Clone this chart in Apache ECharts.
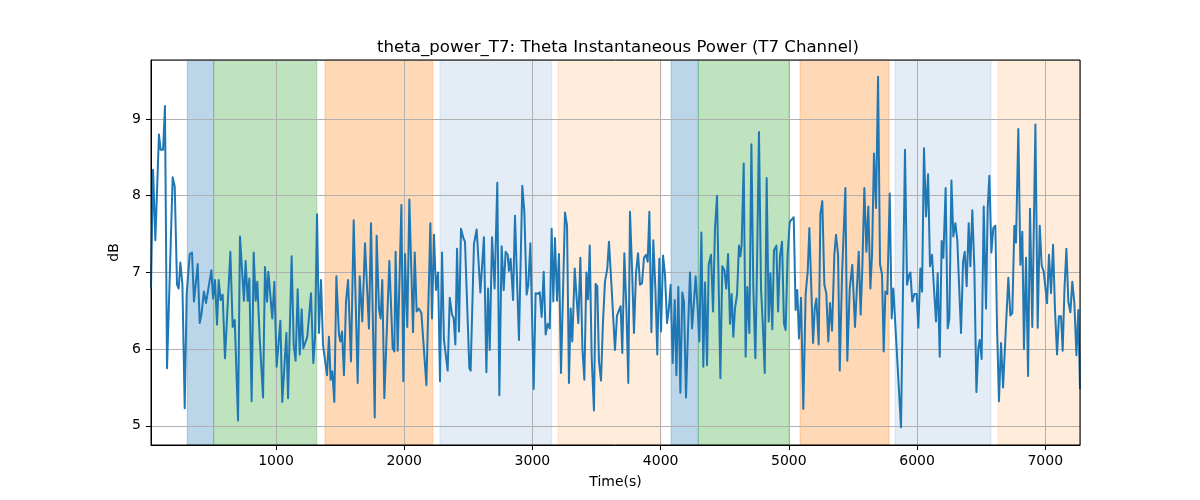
<!DOCTYPE html>
<html>
<head>
<meta charset="utf-8">
<script src="https://cdn.jsdelivr.net/npm/echarts@6/dist/echarts.min.js"></script>
<style>
html,body{margin:0;padding:0;background:#fff;}
#chart{width:1200px;height:500px;}
</style>
</head>
<body>
<div id="chart"></div>
<script>
// ---- data ----
const times = [
25,41,59,87,100,119,134,150,194,210,228,241,254,270,288,303,327,345,360,389,405,418,438,454,496,509,524,540,553,568,584,602,644,662,678,704,719,750,763,779,792,810,826,841,854,873,899,914,930,
940,971,987,1005,1034,1049,1081,1094,1122,1138,1153,1169,1185,1200,1213,1244,1273,1291,1304,1320,1335,1351,1367,1398,1413,1426,1439,1455,1471,1491,1502,1515,1530,1546,1562,1585,1606,1619,1637,1653,1673,1694,1725,1741,1770,1785,1803,1816,1829,1845,
1858,1884,1910,1923,1933,1949,1978,1993,2006,2024,2040,2069,2082,2097,2113,2134,2144,2173,2204,2217,2232,2248,2264,2279,2295,2310,2339,2355,2373,2386,2399,2412,2427,2443,2461,2474,2508,2518,2544,2565,2594,2622,2641,2654,2667,2685,2705,2726,2742,2760,
2776,2791,2807,2817,2830,2849,2864,2895,2921,2937,2955,2968,2984,3010,3025,3041,3057,3072,3088,3103,3119,3135,3150,3163,3176,3192,3207,3223,3254,3270,3285,3298,3311,3330,3343,3358,3374,3390,3405,3421,3434,3447,3462,3480,3493,3506,3519,3535,3550,3566,3584,3597,3618,3644,3660,3670,
3688,3701,3717,3733,3748,3761,3777,3792,3808,3824,3839,3855,3870,3886,3899,3912,3928,3943,3959,3974,3990,4003,4019,4034,4050,4063,4078,4094,4110,4123,4138,4154,4169,4182,4198,4214,4229,4245,4260,4273,4289,4302,4318,4333,4346,4362,4375,4393,4409,4424,4440,4466,4481,4497,4512,4526,4541,4554,4567,
4580,4596,4611,4622,4632,4648,4663,4676,4692,4708,4723,4739,4752,4767,4783,4796,4812,4827,4843,4856,4871,4884,4903,4916,4931,4947,4962,4975,4990,5007,5022,5038,5053,5066,5079,5095,5113,5131,5147,5160,5189,5202,5215,5233,5246,5261,5277,5292,5308,5321,5337,5355,5368,5384,5397,5415,5441,5456,5475,5495,
5516,5545,5560,5573,5589,5605,5620,5636,5649,5664,5680,5696,5711,5727,5740,5753,5768,5787,5802,5815,5875,5906,5922,5937,5948,5963,5979,5997,6010,6026,6039,6054,6070,6086,6101,6117,6132,6148,6161,6177,6192,6205,6223,6239,6252,6268,6283,6299,6314,6343,6359,6372,6387,6403,
6416,6431,6447,6463,6478,6489,6504,6520,6538,6551,6564,6580,6595,6611,6624,6639,6655,6671,6689,6712,6728,6743,6759,6772,6790,6806,6821,6834,6850,6866,6881,6899,6923,6941,6957,6972,6988,7014,7029,7045,7061,7076,7092,7107,7123,7136,7150,7165,7180,7196,7211,7227,7243,7258,7271
];
const powerDb = [
6.79,8.34,7.42,8.80,8.60,8.60,9.17,5.75,8.24,8.12,6.84,6.79,7.13,6.84,5.23,6.71,7.24,7.26,6.62,7.11,6.34,6.45,6.75,6.60,7.03,6.66,6.90,6.32,6.90,6.64,6.71,5.88,7.27,6.29,6.38,5.07,7.47,6.63,7.15,6.63,6.92,5.32,7.26,6.63,6.88,6.14,5.37,7.07,6.62,
7.01,6.40,6.88,5.77,6.37,5.31,6.21,5.36,7.21,6.05,5.85,6.78,5.93,6.52,6.01,6.16,6.73,5.82,6.14,7.76,6.21,6.90,6.05,5.66,6.16,5.60,5.71,5.31,6.95,6.19,6.10,6.23,5.66,6.62,6.90,5.84,7.68,7.68,5.56,6.95,6.36,7.38,6.27,7.64,5.11,7.48,6.53,6.40,6.90,5.36,
5.35,7.15,6.01,5.97,7.27,5.98,7.88,5.58,7.24,6.29,7.95,6.22,7.26,6.49,6.53,6.47,6.46,5.53,7.64,6.40,7.49,6.77,7.00,5.58,7.26,6.12,5.72,6.67,6.45,6.40,6.06,7.31,6.23,7.57,7.45,7.40,5.75,5.72,7.37,7.56,6.74,7.46,5.70,6.79,5.99,7.46,6.79,8.17,5.40,7.34,
6.77,7.27,7.23,7.02,7.18,6.64,7.74,6.12,8.13,7.79,6.71,6.84,7.38,5.48,6.73,6.72,6.74,6.42,7.01,6.19,6.33,6.27,7.57,6.62,7.45,6.63,7.24,5.69,7.78,7.61,5.56,6.53,6.10,7.05,6.71,6.34,7.19,6.00,5.60,7.00,6.65,7.35,5.90,5.20,6.85,6.82,5.84,5.59,6.34,6.88,7.05,7.40,6.79,5.99,6.44,6.45,
6.56,5.95,7.25,6.52,5.56,7.79,7.05,6.21,6.99,7.25,6.84,6.86,7.19,7.23,7.14,7.79,6.22,7.42,6.79,5.93,7.18,6.23,7.22,6.97,6.34,6.51,6.84,5.82,6.64,5.66,6.81,5.43,6.74,6.62,5.37,6.27,7.00,6.27,6.62,6.95,6.53,6.10,7.52,5.77,6.87,5.79,7.10,7.23,6.49,7.58,8.00,5.62,7.08,7.03,6.79,7.24,6.33,6.72,6.16,
6.53,6.71,7.35,7.21,7.36,8.42,5.90,6.81,6.21,8.67,6.79,5.88,7.10,8.83,6.79,6.36,5.69,8.23,6.36,6.99,6.26,7.29,7.35,6.49,7.21,7.40,6.33,6.25,7.21,7.66,7.66,7.72,6.51,6.77,6.14,6.67,5.22,6.71,7.01,7.58,6.08,6.53,6.66,6.06,7.76,7.93,6.84,6.73,6.10,6.60,6.24,7.23,7.49,7.23,5.72,6.97,8.10,5.85,6.79,7.10,
6.29,7.27,6.45,7.05,8.10,7.27,7.86,6.79,7.23,8.55,7.84,9.55,7.11,6.97,5.97,6.75,6.72,8.03,6.40,6.79,4.98,8.60,6.84,6.96,7.00,6.62,6.72,6.72,6.28,7.05,6.75,8.62,7.73,8.28,7.08,7.23,6.79,6.36,6.99,5.90,7.41,7.19,8.10,6.27,6.40,8.20,7.47,7.64,7.42,6.21,7.14,7.27,6.82,7.64,
7.08,7.81,7.06,5.44,6.01,6.12,5.87,7.86,6.53,7.84,8.26,7.26,7.58,7.61,6.27,5.32,6.08,5.50,6.14,6.93,6.44,6.47,7.61,7.39,8.87,7.10,7.53,6.00,7.19,5.65,7.83,6.29,8.93,6.28,7.61,7.09,7.01,6.60,7.23,6.73,7.36,6.51,5.93,6.43,6.43,5.98,6.79,7.31,6.62,6.48,6.88,6.60,5.92,6.51,5.48
];
const bandStarts = [308, 514, 1382, 2279, 3200, 4081, 4294, 5087, 5828, 6632];
const bandEnds   = [514, 1318, 2222, 3150, 4002, 4294, 5001, 5782, 6577, 7271];
const bandKinds  = ['blue','green','orange','lightblue','lightorange','blue','green','orange','lightblue','lightorange'];
const yRange = [4.75, 9.77];
const titleText = 'theta_power_T7: Theta Instantaneous Power (T7 Channel)';
const xName = 'Time(s)';
const yName = 'dB';

// ---- styles ----
const bandColors = {
  blue: 'rgba(31,119,180,0.3)',
  green: 'rgba(44,160,44,0.3)',
  orange: 'rgba(255,127,14,0.3)',
  lightblue: 'rgba(75,128,195,0.15)',
  lightorange: 'rgba(255,127,14,0.15)'
};
const FONT = 'DejaVu Sans';

const lineData = times.map((t, i) => [t, powerDb[i]]);
const bandData = bandStarts.map((s, i) => [s, bandEnds[i], i]);

const chart = echarts.init(document.getElementById('chart'), null, {renderer: 'canvas'});
chart.setOption({
  animation: false,
  backgroundColor: '#fff',
  title: {
    text: titleText,
    left: 613, textAlign: 'center', top: 34,
    textStyle: {fontFamily: FONT, fontSize: 16.6, fontWeight: 'normal', color: '#000'}
  },
  grid: {left: 151, right: 120, top: 60, bottom: 55, show: true, borderColor: '#000', borderWidth: 1, backgroundColor: 'transparent', z: 5},
  xAxis: {
    type: 'value', min: times[0], max: times[times.length - 1], splitNumber: 5, z: 1,
    name: xName, nameLocation: 'middle', nameGap: 30,
    nameTextStyle: {fontFamily: FONT, fontSize: 14, color: '#000'},
    axisLine: {show: true, onZero: false, lineStyle: {color: '#000', width: 1}},
    axisTick: {show: true, length: 5, lineStyle: {color: '#000'}},
    axisLabel: {show: true, margin: 9, showMinLabel: false, showMaxLabel: false, fontFamily: FONT, fontSize: 14, color: '#000',
      formatter: function (v) { return String(v); }},
    splitLine: {show: true, lineStyle: {color: '#b0b0b0', width: 1}}
  },
  yAxis: {
    type: 'value', min: yRange[0], max: yRange[1], splitNumber: 5, z: 1,
    name: yName, nameLocation: 'middle', nameGap: 24, nameRotate: 90,
    nameTextStyle: {fontFamily: FONT, fontSize: 14, color: '#000'},
    axisLine: {show: true, onZero: false, lineStyle: {color: '#000', width: 1}},
    axisTick: {show: true, length: 5, lineStyle: {color: '#000'}},
    axisLabel: {show: true, margin: 10, showMinLabel: false, showMaxLabel: false, fontFamily: FONT, fontSize: 14, color: '#000',
      formatter: function (v) { return String(v); }},
    splitLine: {show: true, lineStyle: {color: '#b0b0b0', width: 1}}
  },
  series: [
    {
      type: 'custom', z: 0, silent: true,
      data: bandData,
      renderItem: function (params, api) {
        const s = api.value(0), e = api.value(1), idx = api.value(2);
        const p0 = api.coord([s, yRange[1]]);
        const p1 = api.coord([e, yRange[0]]);
        const col = bandColors[bandKinds[idx]];
        return {
          type: 'rect',
          shape: {x: p0[0], y: p0[1], width: p1[0] - p0[0], height: p1[1] - p0[1]},
          style: {fill: col, stroke: col, lineWidth: 1}
        };
      }
    },
    {
      type: 'line', z: 3, data: lineData, showSymbol: false, symbol: 'none',
      lineStyle: {color: '#1f77b4', width: 2, join: 'round'},
      itemStyle: {color: '#1f77b4'}
    }
  ]
});
</script>
</body>
</html>
